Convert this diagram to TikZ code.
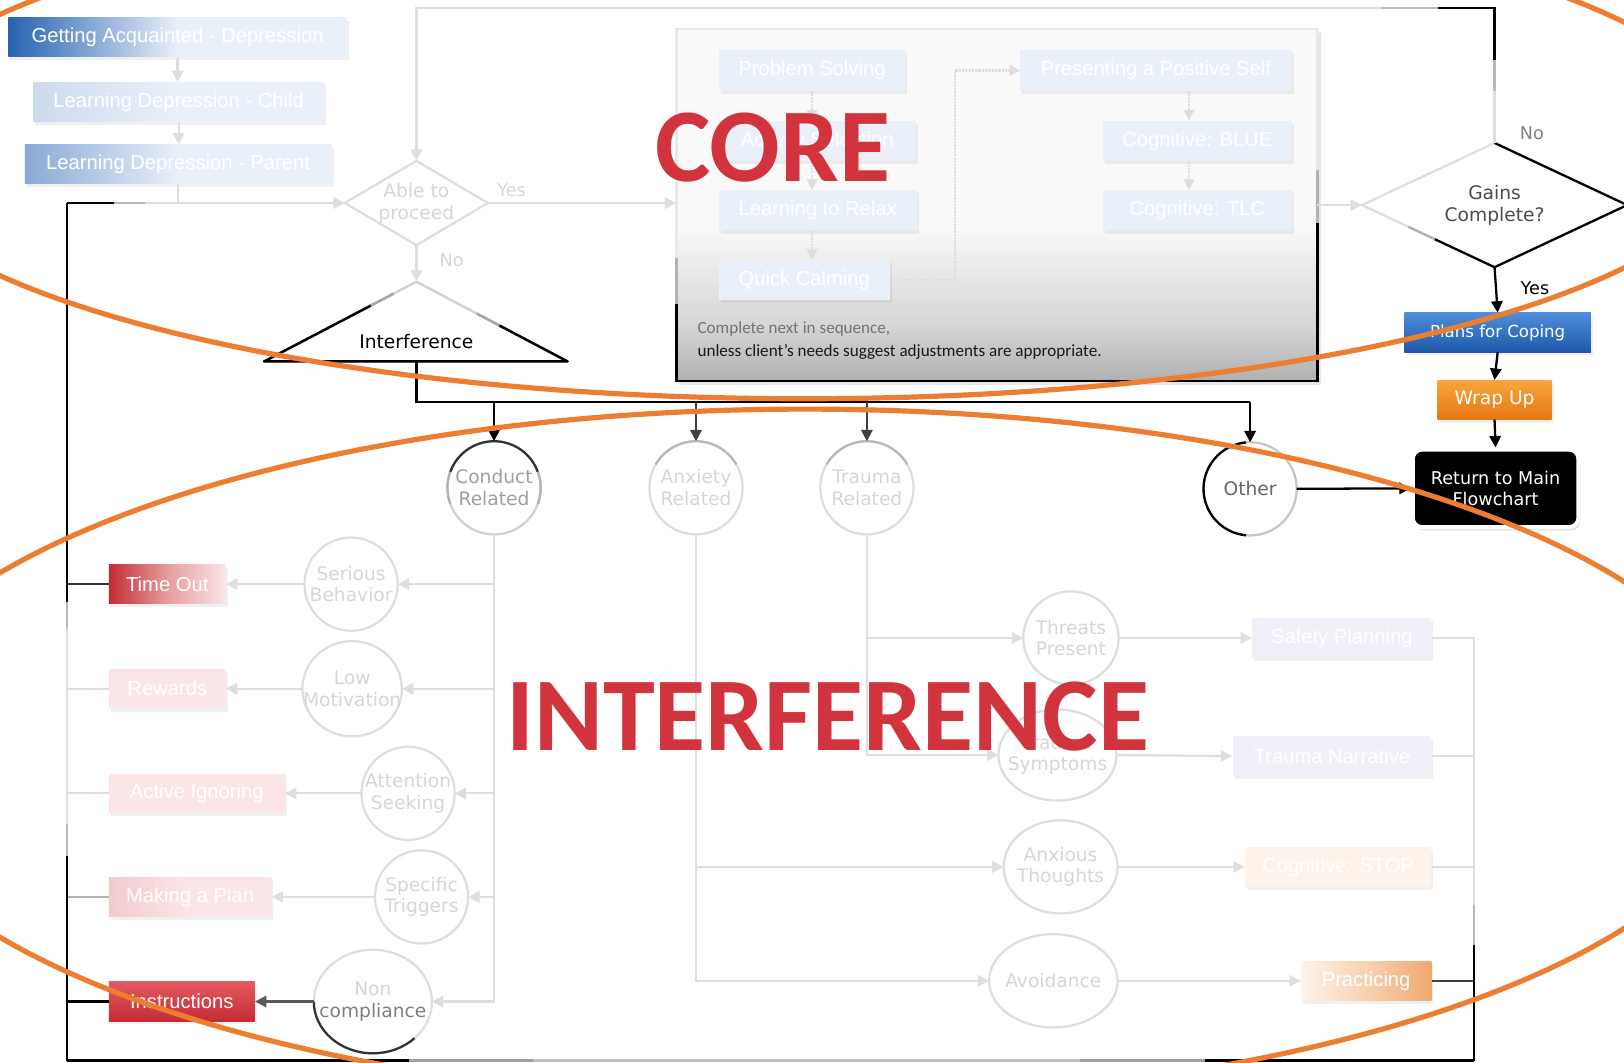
\documentclass[tikz,border=0pt]{standalone}
\usepackage{fontspec}
\setmainfont{Liberation Sans}
\newfontfamily\flowfont{DejaVu Sans}
\newfontfamily\notefont{Carlito}
\definecolor{faint}{RGB}{222,222,222}
\definecolor{faintText}{RGB}{214,214,214}
\definecolor{blueDeep}{RGB}{38,98,178}
\definecolor{blueFaint}{RGB}{234,240,249}
\definecolor{blueTop}{RGB}{78,142,218}
\definecolor{blueBot}{RGB}{30,88,170}
\definecolor{redDeep}{RGB}{196,44,52}
\definecolor{redTop}{RGB}{226,90,96}
\definecolor{redFaint}{RGB}{251,230,231}
\definecolor{lavFaint}{RGB}{240,240,248}
\definecolor{peachFaint}{RGB}{253,243,234}
\definecolor{peachDeep}{RGB}{240,168,110}
\definecolor{wrapTop}{RGB}{248,166,60}
\definecolor{wrapBot}{RGB}{228,120,20}
\definecolor{coreTop}{RGB}{249,249,249}
\definecolor{coreMid}{RGB}{214,214,214}
\definecolor{coreBot}{RGB}{176,176,176}
\definecolor{ringOrange}{RGB}{237,125,49}
\definecolor{titleRed}{RGB}{209,52,60}
\usetikzlibrary{shapes.geometric,arrows.meta,calc,shadows}
% panel shading: light for most of the height, darker towards the bottom edge
\pgfdeclareverticalshading{coreshade}{100bp}{color(0bp)=(coreBot); color(25bp)=(coreBot);
    color(33bp)=(coreMid); color(47bp)=(coreTop); color(100bp)=(coreTop)}

\begin{document}
\begin{tikzpicture}[x=1pt, y=1pt,
    flow/.style={draw=faint, line width=2.2pt},
    flowarr/.style={flow, -{Triangle[length=11pt,width=11pt]}},
    dotarr/.style={flow, densely dotted, -{Triangle[length=10pt,width=10pt]}},
    ink/.style={draw=black, line width=2.2pt},
    inkarr/.style={ink, -{Triangle[length=11pt,width=11pt]}},
    tab/.style={rectangle, inner sep=0pt, minimum height=38pt, text=white,
        font=\fontsize{19.5}{22}\selectfont,
        drop shadow={opacity=0.12, shadow xshift=2pt, shadow yshift=-3pt}},
    lesson/.style={tab, fill=blueFaint, minimum height=39pt},
    ring/.style={ellipse, draw=faint, line width=2.2pt, inner sep=0pt, outer sep=0pt,
        minimum width=90pt, minimum height=90pt},
    ringtext/.style={text=faintText, align=center, font=\flowfont\fontsize{18}{21}\selectfont},
    decision/.style={diamond, inner sep=0pt, outer sep=0pt, line width=2.2pt, align=center,
        font=\flowfont\fontsize{18}{21}\selectfont},
    tag/.style={font=\flowfont\fontsize{17}{20}\selectfont},
    note/.style={anchor=west, font=\notefont\fontsize{16.5}{19}\selectfont},
    banner/.style={text=titleRed, font=\notefont\bfseries\fontsize{101}{101}\selectfont},
    halo/.style={draw=ringOrange, line width=5pt}]
    \useasboundingbox (0,0) rectangle (1568,1026);
    \clip (0,0) rectangle (1568,1026);

    % intake sessions
    \node[tab, minimum width=327pt, left color=blueDeep, right color=blueFaint,
          middle color=blueFaint] (gaDep) at (171.5,990) {Getting Acquainted - Depression};
    \node[tab, minimum width=281pt, left color=blueFaint!85!blueDeep, right color=blueFaint,
          middle color=blueFaint] (ldChild) at (172.5,927.5) {Learning Depression - Child};
    \node[tab, minimum width=296pt, left color=blueDeep!50!blueFaint, right color=blueFaint,
          middle color=blueFaint] (ldParent) at (172,867.5) {Learning Depression - Parent};

    % first decision
    \node[decision, draw=faint, text=faintText, minimum width=136pt, minimum height=80pt,
          aspect=1.7] (ableQ) at (402,830) {Able to\\proceed};
    \node[tag, text=faintText] (yesA) at (494,842) {Yes};
    \node[tag, text=faintText] (noA) at (436,775) {No};

    % interference triangle
    \coordinate (triApex) at (402,754);
    \coordinate (triLeft) at (255,677);
    \coordinate (triRight) at (548,677);
    \coordinate (triBase) at (402,677);
    \fill[white] (triApex) -- (triLeft) -- (triRight) -- cycle;
    \draw[line width=2.4pt, gray!35, line join=round] (triApex) -- (triLeft) -- (triRight) -- cycle;
    \draw[line width=2.4pt, gray!70] ($(triLeft)!0.7!(triApex)$) -- ($(triLeft)!0.85!(triApex)$);
    \draw[line width=2.4pt, gray!70] ($(triRight)!0.45!(triApex)$) -- ($(triRight)!0.6!(triApex)$);
    \draw[line width=2.4pt, black, line join=round] ($(triLeft)!0.7!(triApex)$) -- (triLeft)
        -- (triRight) -- ($(triRight)!0.45!(triApex)$);
    \node[font=\flowfont\fontsize{18}{21}\selectfont] (interf) at (402,696) {Interference};

    % core sequence panel
    \node[rectangle, minimum width=619pt, minimum height=340pt, outer sep=0pt, draw=gray!18,
          line width=2.6pt, shading=coreshade,
          drop shadow={opacity=0.2, shadow xshift=3pt, shadow yshift=-4pt}] (coreBox) at (962.5,828) {};
    \draw[line width=2.6pt, gray!60] ($(coreBox.south west)!0.22!(coreBox.north west)$)
        -- ($(coreBox.south west)!0.35!(coreBox.north west)$);
    \draw[line width=2.6pt, gray!60] ($(coreBox.south east)!0.45!(coreBox.north east)$)
        -- ($(coreBox.south east)!0.6!(coreBox.north east)$);
    \draw[line width=2.6pt, black] ($(coreBox.south west)!0.22!(coreBox.north west)$)
        -- (coreBox.south west) -- (coreBox.south east)
        -- ($(coreBox.south east)!0.45!(coreBox.north east)$);
    \node[lesson, minimum width=180pt] (psBox) at (784,958) {Problem Solving};
    \node[lesson, minimum width=190pt] (asBox) at (789,890) {Activity Selection};
    \node[lesson, minimum width=191pt] (lrBox) at (789.5,823) {Learning to Relax};
    \node[lesson, minimum width=165pt] (qcBox) at (776.5,755.5) {Quick Calming};
    \node[lesson, minimum width=262pt] (ppsBox) at (1116,958) {Presenting a Positive Self};
    \node[lesson, minimum width=182pt] (blueBox) at (1156,890) {Cognitive: BLUE};
    \node[lesson, minimum width=182pt] (tlcBox) at (1156,823) {Cognitive: TLC};
    \draw[dotarr] (psBox.south) -- (psBox.south |- asBox.north);
    \draw[dotarr] (psBox.south |- asBox.south) -- (psBox.south |- lrBox.north);
    \draw[dotarr] (psBox.south |- lrBox.south) -- (psBox.south |- qcBox.north);
    \draw[dotarr] (qcBox.east) -- ++(63,0) |- (ppsBox.west);
    \draw[dotarr] ([xshift=32pt]ppsBox.south) -- ([xshift=32pt]ppsBox.south |- blueBox.north);
    \draw[dotarr] ([xshift=-8pt]blueBox.south) -- ([xshift=-8pt]blueBox.south |- tlcBox.north);
    \node[note, text=black!55] (noteA) at (670,708) {Complete next in sequence,};
    \node[note, text=black!90] (noteB) at (670,686) {unless client’s needs suggest adjustments are appropriate.};

    % closing steps
    \node[decision, draw=gray!25, text=black!70, minimum width=256pt, minimum height=120pt,
          aspect=2.1] (gainsQ) at (1443,828) {Gains\\Complete?};
    \draw[line width=2.2pt, gray!60] ($(gainsQ.west)!0.35!(gainsQ.south)$) -- ($(gainsQ.west)!0.55!(gainsQ.south)$);
    \draw[line width=2.2pt, black, line join=round] ($(gainsQ.west)!0.55!(gainsQ.south)$)
        -- (gainsQ.south) -- (gainsQ.east) -- (gainsQ.north);
    \node[tag, text=gray] (noB) at (1479,897) {No};
    \node[tag, text=black] (yesB) at (1482,748) {Yes};
    \node[tab, minimum width=180pt, top color=blueTop, bottom color=blueBot,
          font=\flowfont\fontsize{16}{19}\selectfont] (plansBox) at (1446,705) {Plans for Coping};
    \node[tab, minimum width=110pt, top color=wrapTop, bottom color=wrapBot,
          font=\flowfont\fontsize{18}{21}\selectfont] (wrapBox) at (1443,640) {Wrap Up};
    \node[rectangle, rounded corners=9pt, fill=black, draw=white, line width=4pt,
          minimum width=160pt, minimum height=75pt, align=center, text=white,
          font=\flowfont\fontsize{17}{20}\selectfont,
          drop shadow={opacity=0.25, shadow xshift=2pt, shadow yshift=-3pt}] (returnBox) at (1444,554.5) {Return to Main\\Flowchart};

    % problem areas
    \node[ring, draw=gray!35] (conductC) at (477,555) {};
    \node[ringtext, text=gray!75] (conductT) at (conductC) {Conduct\\Related};
    \node[ring] (anxietyC) at (672,555) {};
    \node[ringtext] (anxietyT) at (anxietyC) {Anxiety\\Related};
    \node[ring] (traumaC) at (837,555) {};
    \node[ringtext] (traumaT) at (traumaC) {Trauma\\Related};
    \node[ring, draw=gray!45] (otherC) at (1207,554) {};
    \node[ringtext, text=black!60] (otherT) at (otherC) {Other};
    \draw[line width=2.2pt, black!80] (conductC.20) arc[start angle=20, end angle=160, radius=45pt];
    \draw[line width=2.2pt, gray!60] (conductC.160) arc[start angle=160, end angle=200, radius=45pt];
    \draw[line width=2.2pt, gray!60] (conductC.-20) arc[start angle=-20, end angle=20, radius=45pt];
    \draw[line width=2.2pt, gray!55] (anxietyC.30) arc[start angle=30, end angle=150, radius=45pt];
    \draw[line width=2.2pt, gray!55] (traumaC.30) arc[start angle=30, end angle=150, radius=45pt];
    \draw[line width=2.2pt, black] (otherC.95) arc[start angle=95, end angle=265, radius=45pt];

    % conduct branch
    \node[ring] (seriousC) at (339,462) {};
    \node[ringtext] (seriousT) at (seriousC) {Serious\\Behavior};
    \node[ring, minimum width=96pt, minimum height=92pt] (lowMotC) at (340,361) {};
    \node[ringtext] (lowMotT) at (lowMotC) {Low\\Motivation};
    \node[ring] (attnC) at (394,260) {};
    \node[ringtext] (attnT) at (attnC) {Attention\\Seeking};
    \node[ring] (triggC) at (407,160) {};
    \node[ringtext] (triggT) at (triggC) {Specific\\Triggers};
    \node[ring, minimum width=114pt, minimum height=100pt] (noncompC) at (360,59) {};
    \node[ringtext] (noncompT) at (noncompC) {Non\\\textcolor{gray}{compliance}};
    \draw[line width=2.2pt, black!80] (noncompC.west) arc[start angle=180, end angle=315, x radius=57pt, y radius=50pt];
    \node[tab, minimum width=113pt, left color=redDeep, right color=redFaint,
          middle color=redDeep!40!redFaint] (timeOut) at (161.5,462) {Time Out};
    \node[tab, minimum width=113pt, fill=redFaint] (rewards) at (161.5,361) {Rewards};
    \node[tab, minimum width=170pt, fill=redFaint] (activeIgn) at (190,260) {Active Ignoring};
    \node[tab, minimum width=157pt, left color=redFaint!85!redDeep, right color=redFaint,
          middle color=redFaint] (makePlan) at (183.5,160) {Making a Plan};
    \node[tab, minimum width=141pt, top color=redTop, bottom color=redDeep] (instr) at (175.5,59) {Instructions};

    % anxiety and trauma branches
    \node[ring, minimum width=92pt] (threatsC) at (1034,410) {};
    \node[ringtext] (threatsT) at (threatsC) {Threats\\Present};
    \node[ring, minimum width=114pt, minimum height=88pt] (trSympC) at (1021,297) {};
    \node[ringtext] (trSympT) at (trSympC) {Trauma\\Symptoms};
    \node[ring, minimum width=110pt] (anxThC) at (1024,189) {};
    \node[ringtext] (anxThT) at (anxThC) {Anxious\\Thoughts};
    \node[ring, minimum width=124pt] (avoidC) at (1017,79) {};
    \node[ringtext] (avoidT) at (avoidC) {Avoidance};
    \node[tab, minimum width=173pt, fill=lavFaint] (safetyBox) at (1295.5,410) {Safety Planning};
    \node[tab, minimum width=192pt, fill=lavFaint] (narrBox) at (1286,296) {Trauma Narrative};
    \node[tab, minimum width=180pt, fill=peachFaint] (stopBox) at (1292,189) {Cognitive: STOP};
    \node[tab, minimum width=126pt, left color=peachFaint, right color=peachDeep,
          middle color=peachFaint!55!peachDeep] (practBox) at (1319,79) {Practicing};

    % return rails
    \coordinate (railBL) at (65,2);
    \coordinate (railBR) at (1423,2);
    \coordinate (railTL) at (65,830);
    \coordinate (loopTL) at (402,1018);
    \coordinate (loopTR) at (1443,1018);
    \coordinate (bus) at (402,638);

    % intake and decision connectors
    \draw[flowarr] (gaDep.south) -- (gaDep.south |- ldChild.north);
    \draw[flowarr] (ldChild.south) -- (ldChild.south |- ldParent.north);
    \draw[flowarr] (ldParent.south) |- (ableQ.west);
    \draw[flow] (railTL) -- (ldParent.south |- railTL);
    \draw[line width=2.2pt, gray!55] ($(railTL)+(45,0)$) -- ($(railTL)+(75,0)$);
    \draw[ink] (railTL) -- ($(railTL)+(45,0)$);
    \draw[flowarr] (ableQ.east) -- (ableQ.east -| coreBox.west);
    \draw[flowarr] (ableQ.south) -- (triApex);
    \draw[flowarr] (gainsQ.north) -- (loopTR) -- (loopTL) -- (ableQ.north);
    \draw[line width=2.2pt, gray!55] ($(loopTR)+(-110,0)$) -- ($(loopTR)+(-55,0)$);
    \draw[line width=2.2pt, gray!55] ($(loopTR)+(0,-50)$) -- ($(loopTR)+(0,-80)$);
    \draw[ink] ($(loopTR)+(-55,0)$) -- (loopTR) -- ($(loopTR)+(0,-50)$);
    \draw[flowarr] (coreBox.east |- gainsQ.west) -- (gainsQ.west);
    \draw[inkarr] (gainsQ.south) -- (plansBox.north);
    \draw[inkarr] (plansBox.south) -- (wrapBox.north);
    \draw[inkarr] (wrapBox.south) -- (returnBox.north);

    % interference bus
    \draw[ink] (triBase) -- (bus) -- (bus -| otherC.north);
    \draw[inkarr] (bus -| conductC.north) -- (conductC.north);
    \draw[inkarr, draw=black!75] (bus -| anxietyC.north) -- (anxietyC.north);
    \draw[inkarr, draw=black!75] (bus -| traumaC.north) -- (traumaC.north);
    \draw[inkarr] (bus -| otherC.north) -- (otherC.north);
    \draw[inkarr] (otherC.east) -- (returnBox.west);

    % conduct connectors
    \draw[flowarr] (conductC.south) |- (noncompC.east);
    \draw[flowarr] (conductC.south |- seriousC.east) -- (seriousC.east);
    \draw[flowarr] (conductC.south |- lowMotC.east) -- (lowMotC.east);
    \draw[flowarr] (conductC.south |- attnC.east) -- (attnC.east);
    \draw[flowarr] (conductC.south |- triggC.east) -- (triggC.east);
    \draw[flowarr] (seriousC.west) -- (timeOut.east);
    \draw[flowarr] (lowMotC.west) -- (rewards.east);
    \draw[flowarr] (attnC.west) -- (activeIgn.east);
    \draw[flowarr] (triggC.west) -- (makePlan.east);
    \draw[inkarr, draw=black!65] (noncompC.west) -- (instr.east);

    % anxiety and trauma connectors
    \draw[flowarr] (anxietyC.south) |- (avoidC.west);
    \draw[flowarr] (anxietyC.south |- anxThC.west) -- (anxThC.west);
    \draw[flowarr] (traumaC.south) |- (trSympC.west);
    \draw[flowarr] (traumaC.south |- threatsC.west) -- (threatsC.west);
    \draw[flowarr] (threatsC.east) -- (safetyBox.west);
    \draw[flowarr] (trSympC.east) -- (narrBox.west);
    \draw[flowarr] (anxThC.east) -- (stopBox.west);
    \draw[flowarr] (avoidC.east) -- (practBox.west);

    % left rail back to the first decision
    \draw[line width=2.2pt, black!80] (timeOut.west) -- (timeOut.west -| railBL);
    \draw[flow] (rewards.west) -- (rewards.west -| railBL);
    \draw[flow] (activeIgn.west) -- (activeIgn.west -| railBL);
    \draw[line width=2.2pt, gray!60] (makePlan.west) -- (makePlan.west -| railBL);
    \draw[ink] (instr.west) -- (instr.west -| railBL);
    \draw[ink] (railBL) -- ($(railBL)+(0,198)$);
    \draw[line width=2.2pt, gray!55] ($(railBL)+(0,198)$) -- ($(railBL)+(0,228)$);
    \draw[flow] ($(railBL)+(0,228)$) -- ($(railBL)+(0,418)$);
    \draw[line width=2.2pt, gray!55] ($(railBL)+(0,418)$) -- ($(railBL)+(0,443)$);
    \draw[ink] ($(railBL)+(0,443)$) -- (railTL);

    % bottom and right rails
    \draw[ink] (railBL) -- ($(railBL)+(330,0)$);
    \draw[line width=2.2pt, gray!75] ($(railBL)+(330,0)$) -- ($(railBL)+(450,0)$);
    \draw[line width=2.2pt, gray!50] ($(railBL)+(450,0)$) -- ($(railBR)+(-380,0)$);
    \draw[line width=2.2pt, gray!75] ($(railBR)+(-380,0)$) -- ($(railBR)+(-260,0)$);
    \draw[ink] ($(railBR)+(-260,0)$) -- (railBR);
    \draw[flow] (safetyBox.east) -- (safetyBox.east -| railBR);
    \draw[flow] (narrBox.east) -- (narrBox.east -| railBR);
    \draw[flow] (stopBox.east) -- (stopBox.east -| railBR);
    \draw[line width=2.2pt, black!75] (practBox.east) -- (practBox.east -| railBR);
    \draw[flow] (safetyBox.east -| railBR) -- ($(railBR)+(0,150)$);
    \draw[line width=2.2pt, gray!55] ($(railBR)+(0,150)$) -- ($(railBR)+(0,112)$);
    \draw[ink] ($(railBR)+(0,112)$) -- (railBR);

    % section titles and outlines
    \node[banner] (coreTitle) at (746,884) {CORE};
    \node[banner] (interfTitle) at (799,334) {INTERFERENCE};
    \draw[halo] (776,886) ellipse [x radius=905, y radius=245];
    \draw[halo] (777,297) ellipse [x radius=914, y radius=334];
\end{tikzpicture}
\end{document}
